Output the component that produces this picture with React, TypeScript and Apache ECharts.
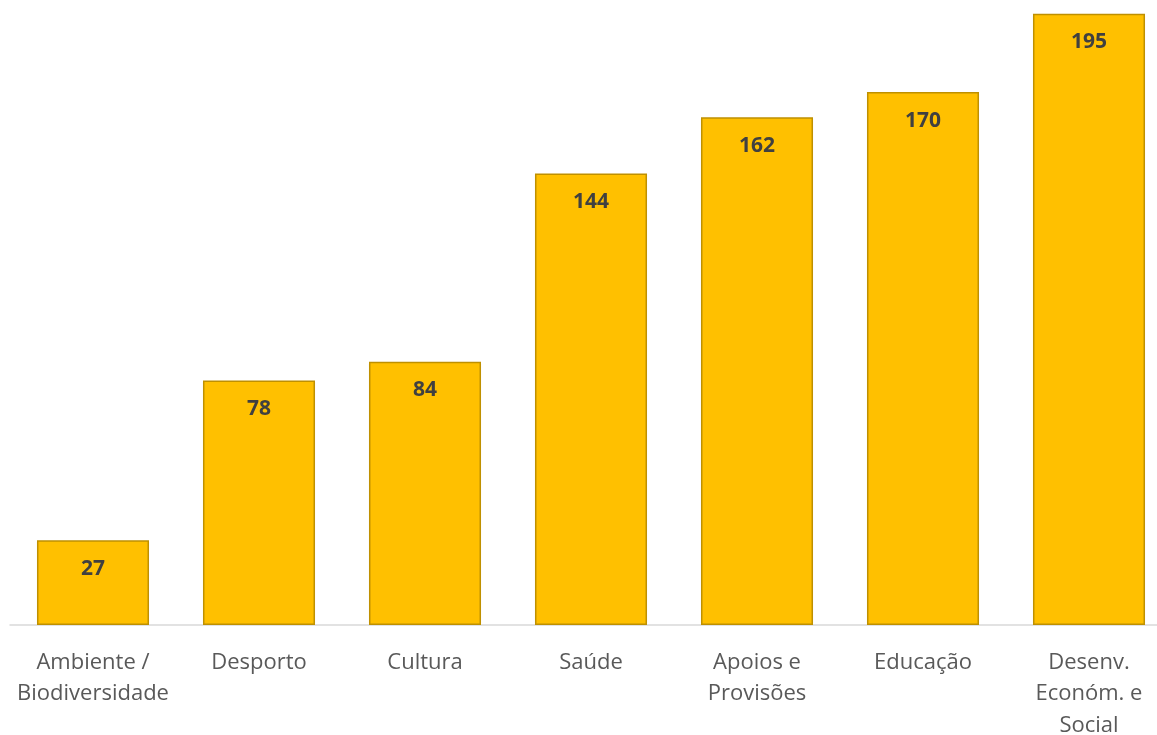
import React, { useEffect, useRef } from "react";
import * as echarts from "echarts";

const categories = [
  "Ambiente /\nBiodiversidade",
  "Desporto",
  "Cultura",
  "Saúde",
  "Apoios e\nProvisões",
  "Educação",
  "Desenv.\nEconóm. e\nSocial",
];
const values = [27, 78, 84, 144, 162, 170, 195];

export default function App() {
  const ref = useRef<HTMLDivElement>(null);
  useEffect(() => {
    const chart = echarts.init(ref.current!, null, { renderer: "svg" });
    chart.setOption({
      animation: false,
      grid: {
        left: 10,
        top: -2,
        width: 1162,
        height: 627,
        containLabel: false,
        outerBoundsMode: "none",
      },
      xAxis: {
        type: "category",
        data: categories,
        axisLine: { lineStyle: { color: "#D9D9D9", width: 1.5 } },
        axisTick: { show: false },
        axisLabel: {
          color: "#595959",
          fontFamily: "Open Sans",
          fontSize: 22,
          lineHeight: 31.5,
          margin: 19,
          interval: 0,
        },
      },
      yAxis: {
        type: "value",
        min: 0,
        max: 200,
        show: false,
        splitLine: { show: false },
      },
      series: [
        {
          type: "bar",
          data: values,
          barCategoryGap: "32.5%",
          itemStyle: { color: "#FFC000", borderColor: "#BF9000", borderWidth: 1.5 },
          label: {
            show: true,
            position: "insideTop",
            distance: 16,
            color: "#404040",
            fontFamily: "Open Sans",
            fontWeight: "bold",
            fontSize: 21,
          },
        },
      ],
    });
    return () => chart.dispose();
  }, []);
  return (
    <div
      ref={ref}
      style={{ position: "fixed", left: 0, top: 0, width: 1157, height: 735 }}
    />
  );
}
